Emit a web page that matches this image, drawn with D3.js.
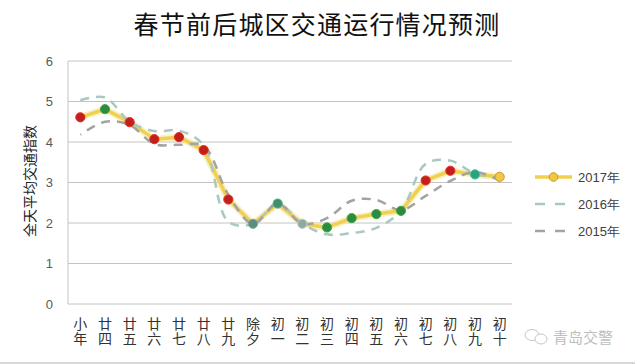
<!DOCTYPE html>
<html>
<head>
<meta charset="utf-8">
<script src="https://cdn.jsdelivr.net/npm/d3@7"></script>
<style>
  html, body { margin: 0; padding: 0; background: #fff; }
  svg { display: block; }
</style>
</head>
<body>
<svg id="chart" width="635" height="364"></svg>
<script>
// ---- data ----
const categories = ["小年","廿四","廿五","廿六","廿七","廿八","廿九","除夕","初一","初二","初三","初四","初五","初六","初七","初八","初九","初十"];
const series2017 = [4.61, 4.81, 4.49, 4.07, 4.12, 3.80, 2.58, 1.98, 2.48, 1.98, 1.89, 2.12, 2.22, 2.30, 3.05, 3.29, 3.20, 3.14];
const series2016 = [5.03, 5.10, 4.50, 4.27, 4.28, 3.92, 2.03, 1.98, 2.48, 1.98, 1.72, 1.75, 1.88, 2.30, 3.46, 3.54, 3.22, 3.10];
const series2015 = [4.18, 4.50, 4.42, 3.95, 3.93, 3.90, 2.70, 1.98, 2.48, 1.98, 2.12, 2.55, 2.57, 2.32, 2.67, 3.04, 3.26, 3.05];
const yTicks = [0, 1, 2, 3, 4, 5, 6];
const seriesNames = ["2017年", "2016年", "2015年"];
const titleText = "春节前后城区交通运行情况预测";
const yTitle = "全天平均交通指数";
const watermark = "青岛交警";
// marker colour per 2017 point (style)
const markerColors = ["#c0211c","#2e8a3e","#c0211c","#c0211c","#c0211c","#c0211c","#c0211c","#5e8c80","#3f8f6c","#8fa9a2","#2e8a3e","#2e8a3e","#2e8a3e","#2e8a3e","#c0211c","#c0211c","#2f9f80","#f2c744"];

// ---- layout ----
const svg = d3.select("#chart");
const mLeft = 68, mRight = 512, mTop = 61, mBottom = 304;

const x = d3.scaleBand().domain(categories).range([mLeft, mRight]);
const y = d3.scaleLinear().domain([0, 6]).range([mBottom, mTop]);
const cx = d => x(d) + x.bandwidth() / 2;

// title
svg.append("text")
  .attr("x", 317).attr("y", 34)
  .attr("text-anchor", "middle")
  .attr("font-family", "'Noto Sans CJK SC', sans-serif")
  .attr("font-size", 25).attr("letter-spacing", 1.2)
  .attr("fill", "#111")
  .text(titleText);

// gridlines
svg.append("g").selectAll("line").data(yTicks).join("line")
  .attr("x1", mLeft).attr("x2", mRight)
  .attr("y1", d => y(d)).attr("y2", d => y(d))
  .attr("stroke", "#c4c4c4").attr("stroke-width", 1);

// left axis line
svg.append("line")
  .attr("x1", mLeft).attr("x2", mLeft).attr("y1", mTop).attr("y2", mBottom)
  .attr("stroke", "#c4c4c4");

// y axis
const yAxis = d3.axisLeft(y).tickValues(yTicks).tickFormat(d3.format("d")).tickSize(0).tickPadding(15);
const ya = svg.append("g").attr("transform", `translate(${mLeft},0)`).call(yAxis);
ya.select(".domain").remove();
ya.selectAll("text")
  .attr("font-family", "'Liberation Sans', Arial, sans-serif")
  .attr("font-size", 13).attr("fill", "#595959");

// y title
svg.append("text")
  .attr("transform", "translate(35,181) rotate(-90)")
  .attr("text-anchor", "middle")
  .attr("font-family", "'Noto Sans CJK SC', sans-serif")
  .attr("font-size", 14).attr("fill", "#222")
  .text(yTitle);

// x labels (vertical text)
svg.append("g").selectAll("text").data(categories).join("text")
  .attr("x", d => cx(d))
  .attr("y", 317)
  .attr("writing-mode", "vertical-rl")
  .attr("letter-spacing", 1)
  .attr("font-family", "'Noto Sans CJK SC', sans-serif")
  .attr("font-size", 14).attr("fill", "#333")
  .text(d => d);

// lines
const straight = d3.line().x((d, i) => cx(categories[i])).y(d => y(d));
const smooth = d3.line().x((d, i) => cx(categories[i])).y(d => y(d)).curve(d3.curveCatmullRom.alpha(0.5));

svg.append("path").datum(series2017)
  .attr("d", straight).attr("fill", "none")
  .attr("stroke", "#f6e6a0").attr("stroke-width", 7).attr("stroke-linejoin", "round").attr("opacity", 0.6);
svg.append("path").datum(series2017)
  .attr("d", straight).attr("fill", "none")
  .attr("stroke", "#f0d04c").attr("stroke-width", 3.5).attr("stroke-linejoin", "round");

svg.append("path").datum(series2016)
  .attr("d", smooth).attr("fill", "none")
  .attr("stroke", "#a9c9c0").attr("stroke-width", 2.5)
  .attr("stroke-dasharray", "9,7");
svg.append("path").datum(series2015)
  .attr("d", smooth).attr("fill", "none")
  .attr("stroke", "#a3a3a3").attr("stroke-width", 2.5)
  .attr("stroke-dasharray", "9,7").attr("stroke-dashoffset", 8);

// markers
svg.append("g").selectAll("circle").data(series2017).join("circle")
  .attr("cx", (d, i) => cx(categories[i]))
  .attr("cy", d => y(d))
  .attr("r", 4.6)
  .attr("fill", (d, i) => markerColors[i])
  .attr("stroke", (d, i) => i === 17 ? "#c99a28" : d3.color(markerColors[i]).brighter(0.6))
  .attr("stroke-width", 1);

// legend
const lg = svg.append("g");
const lx0 = 535, lx1 = 572, tx = 578;
const ly = [177, 204, 231];
lg.append("line").attr("x1", lx0).attr("x2", lx1).attr("y1", ly[0]).attr("y2", ly[0])
  .attr("stroke", "#f0d04c").attr("stroke-width", 3.5);
lg.append("circle").attr("cx", (lx0 + lx1) / 2).attr("cy", ly[0]).attr("r", 4.3)
  .attr("fill", "#f2c744").attr("stroke", "#c99a28");
lg.append("line").attr("x1", lx0).attr("x2", lx0 + 30).attr("y1", ly[1]).attr("y2", ly[1])
  .attr("stroke", "#a9c9c0").attr("stroke-width", 2.5).attr("stroke-dasharray", "10,10");
lg.append("line").attr("x1", lx0).attr("x2", lx0 + 30).attr("y1", ly[2]).attr("y2", ly[2])
  .attr("stroke", "#a3a3a3").attr("stroke-width", 2.5).attr("stroke-dasharray", "10,10");
lg.selectAll("text").data(seriesNames).join("text")
  .attr("x", tx).attr("y", (d, i) => ly[i] + 5)
  .attr("font-family", "'Liberation Sans', Arial, sans-serif")
  .attr("font-size", 13).attr("fill", "#404040")
  .text(d => d);

// watermark
const wm = svg.append("g").attr("opacity", 0.55);
wm.append("ellipse").attr("cx", 532).attr("cy", 335).attr("rx", 7).attr("ry", 5.5)
  .attr("fill", "none").attr("stroke", "#9a9a9a").attr("stroke-width", 1);
wm.append("ellipse").attr("cx", 541).attr("cy", 339).attr("rx", 6).attr("ry", 5)
  .attr("fill", "#fff").attr("stroke", "#9a9a9a").attr("stroke-width", 1);
wm.append("text").attr("x", 553).attr("y", 343)
  .attr("font-family", "'Noto Sans CJK SC', sans-serif")
  .attr("font-size", 15).attr("fill", "#888")
  .text(watermark);

// bottom frame line
svg.append("line").attr("x1", 0).attr("x2", 635).attr("y1", 363).attr("y2", 363)
  .attr("stroke", "#b0b0b0");
</script>
</body>
</html>
